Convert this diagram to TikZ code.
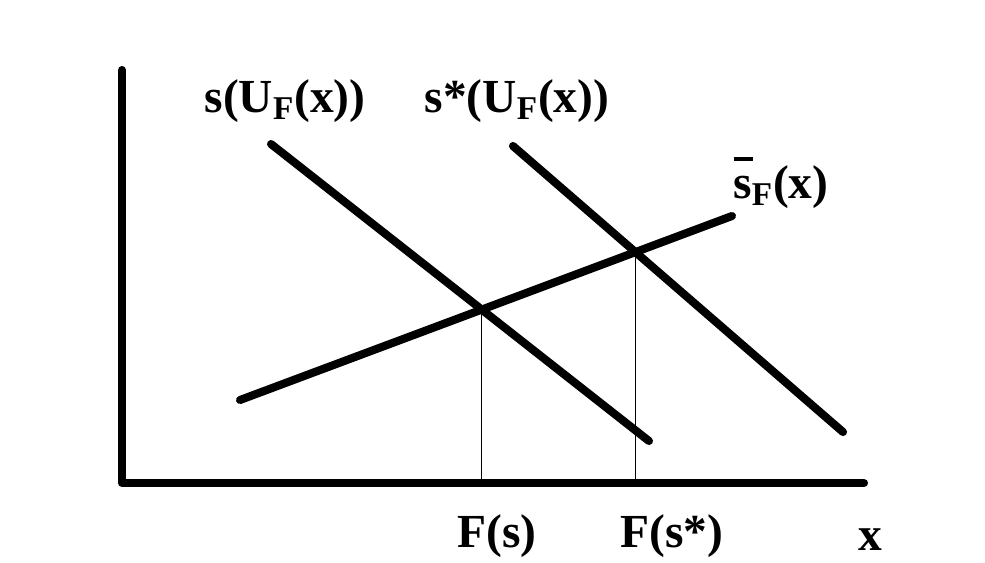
\documentclass[tikz,border=0pt]{standalone}
\usepackage{fontspec}
\setmainfont{Liberation Serif}
\newcommand{\barS}{\leavevmode\rlap{\raisebox{1.75ex}{\rule{0.42em}{0.07em}}}s}

\begin{document}
\begin{tikzpicture}[x=0.02cm, y=-0.02cm, line cap=round,
    axis_line/.style={line width=4.6pt, line join=round},
    curve/.style={line width=4.6pt},
    drop/.style={line width=0.4pt},
    lbl_top/.style={font=\fontsize{27}{32}\selectfont\bfseries, inner sep=0pt},
    lbl_bot/.style={font=\fontsize{27}{32}\selectfont\bfseries, inner sep=0pt},
]
\useasboundingbox (0,0) rectangle (985,562);

% --- Coordenadas ---
\coordinate (ytop)   at (122, 70);
\coordinate (origin) at (122, 483);
\coordinate (xend)   at (864, 483);

\coordinate (s_a)  at (271, 144);
\coordinate (s_b)  at (649, 441);
\coordinate (ss_a) at (513, 146);
\coordinate (ss_b) at (843, 432);
\coordinate (sb_a) at (240, 400);
\coordinate (sb_b) at (732, 216);

% --- Ejes ---
\draw[axis_line] (ytop) -- (origin) -- (xend);

% --- Rectas ---
\draw[curve] (s_a) -- (s_b);
\draw[curve] (ss_a) -- (ss_b);
\draw[curve] (sb_a) -- (sb_b);

% --- Cortes y proyecciones ---
\coordinate (eq1) at (intersection of s_a--s_b and sb_a--sb_b);
\coordinate (eq2) at (intersection of ss_a--ss_b and sb_a--sb_b);
\draw[drop] (eq1) -- (eq1 |- origin);
\draw[drop] (eq2) -- (eq2 |- origin);

% --- Etiquetas ---
\node[lbl_top] (l_s)  at (285, 101) {s(U\textsubscript{F}(x))};
\node[lbl_top] (l_ss) at (517, 101) {s*(U\textsubscript{F}(x))};
\node[lbl_top] (l_sb) at (781, 183) {\barS\textsubscript{F}(x)};
\node[lbl_bot] (l_f1) at (497, 536) {F(s)};
\node[lbl_bot] (l_f2) at (672, 536) {F(s*)};
\node[lbl_bot] (l_x)  at (870, 540) {x};

\end{tikzpicture}
\end{document}
